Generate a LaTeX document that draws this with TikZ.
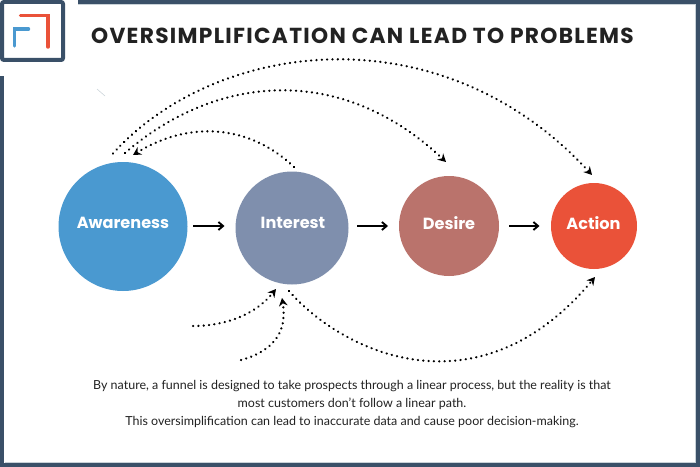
\documentclass[tikz,border=0pt]{standalone}
\usepackage{fontspec}
\setmainfont{Lato}
\newfontfamily\titlefont[LetterSpace=6]{Poppins}
\newfontfamily\stagefont{Poppins}
\usetikzlibrary{arrows.meta}
\definecolor{frame}{HTML}{3A5068}
\definecolor{edge}{HTML}{C9D2D8}
\definecolor{cawa}{HTML}{4A99D0}
\definecolor{cint}{HTML}{7F8FAD}
\definecolor{cdes}{HTML}{BA736C}
\definecolor{cact}{HTML}{EA5239}
\definecolor{ink}{HTML}{222222}
\tikzset{
 x=0.75pt,y=-0.75pt,
 stage/.style={circle,inner sep=0pt,text=white,text depth=0pt,font=\stagefont\fontsize{12.1}{14}\selectfont\bfseries},
 flow/.style={draw=black,line width=1.4pt,-{Straight Barb[length=3.5pt,width=6pt]}},
 loose/.style={draw=black,line width=1.8pt,line cap=round,dash pattern=on 0.1pt off 3.9pt,-{Stealth[length=6pt,width=6.5pt,sep=0pt]}},
 band/.style={fill=frame,draw=none},
 body/.style={font=\fontsize{9.35}{11}\selectfont,text=ink,inner sep=0pt,anchor=center}
}
\begin{document}
\begin{tikzpicture}
\useasboundingbox (0,0) rectangle (700,467);
\fill[white] (0,0) rectangle (700,467);
% inner light edge
\draw[edge,line width=0.7pt] (4.5,462.5) -- (695.5,462.5) -- (695.5,4.5) -- (78,4.5);
% frame bands
\fill[band] (78,0) rectangle (700,4);
\fill[band] (696,0) rectangle (700,467);
\fill[band] (0,463) rectangle (700,467);
\fill[band] (0,76) rectangle (4,467);
% logo
\draw[frame,line width=3pt,rounded corners=1.5pt] (2,2) rectangle (63,60);
\draw[cact,line width=2.6pt,line cap=round] (20.5,15.5) -- (48,15.5) -- (48,47);
\draw[cawa,line width=2.6pt,line cap=round] (28.5,29) -- (14.5,29) -- (14.5,46);
% stray mark
\draw[edge,line width=0.4pt] (97,89) -- (105,96);
% title
\node[font=\titlefont\fontsize{16.3}{18}\selectfont\bfseries,text=ink,inner sep=0pt] (title) at (362.5,35.5) {OVERSIMPLIFICATION CAN LEAD TO PROBLEMS};
% stages
\node[stage,fill=cawa,minimum size=129pt*0.75] (aw) at (123,226.5) {};
\node[stage,fill=cint,minimum size=113pt*0.75] (in) at (292,228) {};
\node[stage,fill=cdes,minimum size=100pt*0.75] (de) at (449,226) {};
\node[stage,fill=cact,minimum size=86pt*0.75] (ac) at (594,226) {};
\node[stage] (awl) at (123,223) {Awareness};
\node[stage] (inl) at (293,223) {Interest};
\node[stage] (del) at (449,223) {Desire};
\node[stage] (acl) at (593.5,223) {Action};
\draw[flow] (193,226) -- (224.5,226);
\draw[flow] (357,226) -- (388,226);
\draw[flow] (509,226) -- (539.5,226);
% free ends
\coordinate (a1) at (113,153.5);
\coordinate (a2) at (125,153);
\coordinate (i1) at (294,167);
\coordinate (b1) at (193,326);
\coordinate (b2) at (241,360);
\coordinate (i2) at (289,291);
\coordinate (ta) at (592,175);
\coordinate (td) at (446,162);
\coordinate (taw) at (133,155);
\coordinate (ti1) at (276,289);
\coordinate (ti2) at (282,298);
\coordinate (tab) at (595,277);
% upper arcs
\draw[loose] (a1) .. controls (215,40) and (440,10) .. (ta);
\draw[loose] (a2) .. controls (215,75) and (340,62) .. (td);
\draw[loose] (i1) .. controls (250,125) and (190,120) .. (taw);
% lower arcs
\draw[loose] (b1) .. controls (225,326) and (255,315) .. (ti1);
\draw[loose] (b2) .. controls (270,352) and (288,335) .. (ti2);
\draw[loose] (i2) .. controls (345,355) and (480,415) .. (tab);
% text
\node[body] (t1) at (352,386) {By nature, a funnel is designed to take prospects through a linear process, but the reality is that};
\node[body] (t2) at (352,404) {most customers don't follow a linear path.};
\node[body] (t3) at (352,422) {This oversimplification can lead to inaccurate data and cause poor decision-making.};
\end{tikzpicture}
\end{document}
